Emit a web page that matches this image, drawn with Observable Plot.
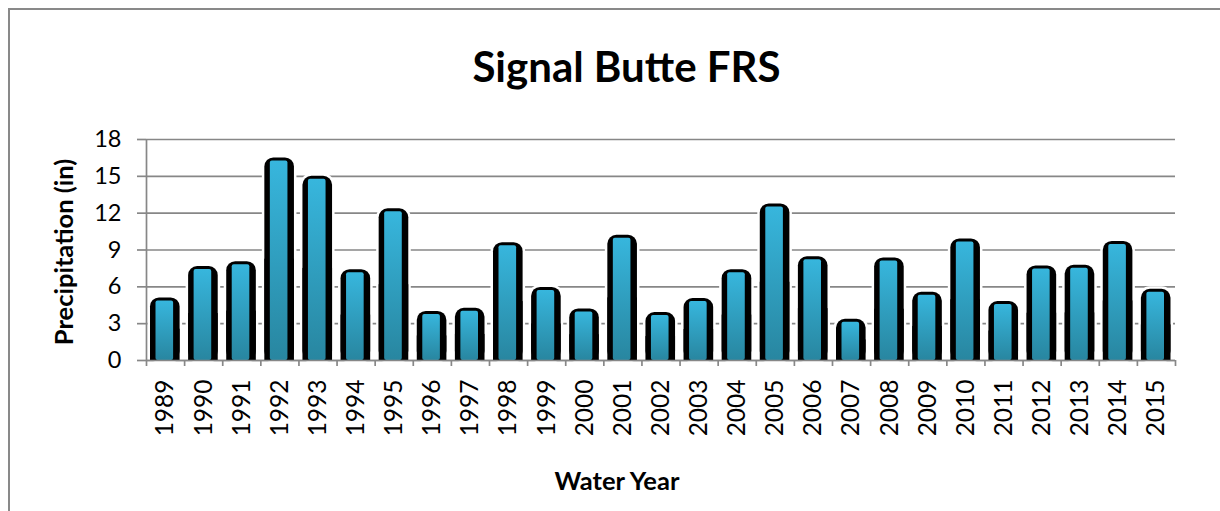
<!DOCTYPE html>
<html>
<head>
<meta charset="utf-8">
<script src="https://cdn.jsdelivr.net/npm/d3@7"></script>
<script src="https://cdn.jsdelivr.net/npm/@observablehq/plot@0.6"></script>
<style>
  html, body { margin: 0; padding: 0; background: white; }
  #wrap { position: relative; width: 1220px; height: 511px; overflow: hidden; }
  #frame { position: absolute; left: 8px; top: 8px; width: 1220px; height: 520px;
           border-left: 2px solid #898989; border-top: 2px solid #898989; pointer-events: none; }
  svg { display: block; }
</style>
</head>
<body>
<div id="wrap"><div id="frame"></div></div>
<script>
const title = "Signal Butte FRS";
const xLabel = "Water Year";
const yLabel = "Precipitation (in)";
const years = ["1989","1990","1991","1992","1993","1994","1995","1996","1997","1998",
               "1999","2000","2001","2002","2003","2004","2005","2006","2007","2008",
               "2009","2010","2011","2012","2013","2014","2015"];
const precip = [5.1, 7.65, 8.05, 16.5, 15.0, 7.4, 12.35, 4.0, 4.25, 9.6,
                5.95, 4.2, 10.2, 3.9, 5.05, 7.4, 12.75, 8.45, 3.35, 8.35,
                5.55, 9.9, 4.8, 7.7, 7.75, 9.7, 5.8];
const yTicks = [0, 3, 6, 9, 12, 15, 18];

const data = years.map((year, i) => ({year, i, value: precip[i]}));
const boundaries = years.map((y, i) => i).concat([years.length]);

const gridColor = "#878787";

const defs = () => {
  const d = d3.create("svg:defs");
  const g = d.append("linearGradient").attr("id", "barGrad")
    .attr("x1", 0).attr("y1", 0).attr("x2", 0).attr("y2", 1);
  g.append("stop").attr("offset", "0%").attr("stop-color", "#37b6dd");
  g.append("stop").attr("offset", "100%").attr("stop-color", "#2886a0");
  return d.node();
};

const chart = Plot.plot({
  width: 1220,
  height: 511,
  marginLeft: 146,
  marginRight: 45,
  marginTop: 139,
  marginBottom: 151,
  x: {domain: [0, years.length], axis: null},
  y: {domain: [0, 18], axis: null},
  style: {fontFamily: "Lato, 'Open Sans', sans-serif", background: "transparent", color: "black"},
  marks: [
    defs,
    Plot.gridY(yTicks, {stroke: gridColor, strokeOpacity: 1, strokeWidth: 1.7}),
    Plot.axisY({ticks: yTicks, tickSize: 9, tickPadding: 16, stroke: gridColor, strokeWidth: 1.7,
                fill: "black", fontSize: 23.5, label: null}),
    Plot.rectY(data, {x1: d => d.i, x2: d => d.i + 1, y1: 0, y2: "value",
                      insetLeft: 4, insetRight: 4.5, rx: 9, fill: "black",
                      stroke: "white", strokeWidth: 5, paintOrder: "stroke"}),
    Plot.rectY(data, {x1: d => d.i, x2: d => d.i + 1, y1: 0, y2: d => d.value / 2,
                      insetLeft: 4, insetRight: 4.5, fill: "black"}),
    Plot.rectY(data, {x1: d => d.i, x2: d => d.i + 1, y1: 0, y2: "value",
                      insetLeft: 9.5, insetRight: 11, insetTop: 3, rx: 2, fill: "url(#barGrad)"}),
    Plot.ruleX([0], {y1: 0, y2: 18, stroke: gridColor, strokeWidth: 1.7}),
    Plot.ruleY([0], {stroke: gridColor, strokeWidth: 1.7}),
    Plot.axisX({ticks: boundaries, tickSize: 6, tickFormat: () => "", stroke: gridColor, strokeWidth: 1.7, label: null}),
    Plot.text(data, {x: d => d.i + 0.5, y: 0, text: "year", rotate: -90, textAnchor: "end",
                     lineAnchor: "middle", dy: 19, fontSize: 24.5, fill: "black"}),
    Plot.text([yLabel], {frameAnchor: "left", dx: -82, dy: 2, rotate: -90, textAnchor: "middle",
                         fontWeight: "bold", fontSize: 25.5, fill: "black", lineAnchor: "middle"}),
    Plot.text([xLabel], {frameAnchor: "bottom", dx: -44, dy: 121, textAnchor: "middle",
                         fontWeight: "bold", fontSize: 25.5, fill: "black", lineAnchor: "middle"}),
    Plot.text([title], {frameAnchor: "top", dx: -34.5, dy: -71, textAnchor: "middle",
                        fontWeight: "bold", fontSize: 42, fill: "black", lineAnchor: "middle"})
  ]
});
document.getElementById("wrap").prepend(chart);
</script>
</body>
</html>
